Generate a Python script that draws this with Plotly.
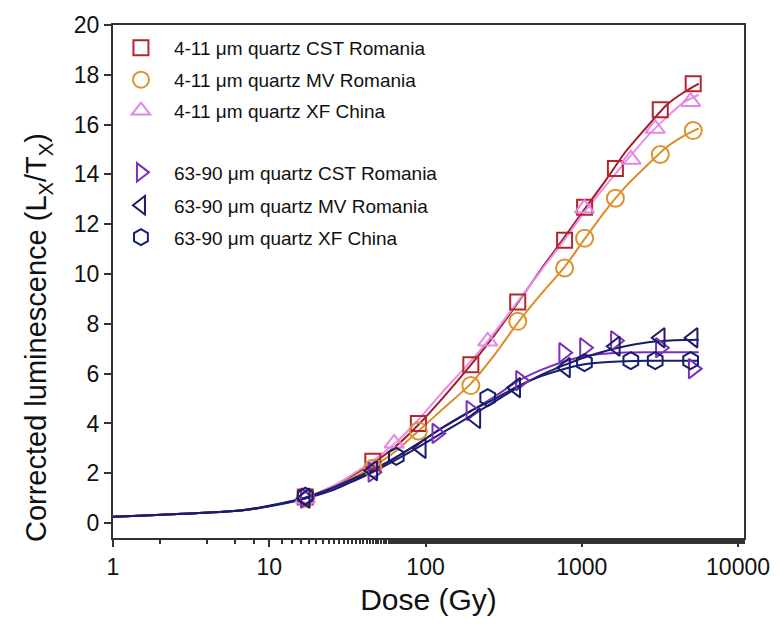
import plotly.graph_objects as go

# ---- measured points: dose (Gy) and corrected luminescence Lx/Tx ----
cst_fine_dose = [17, 46, 90, 195, 389, 776, 1042, 1641, 3178, 5164]
cst_fine_lx = [1.05, 2.48, 4.0, 6.36, 8.88, 11.36, 12.68, 14.24, 16.6, 17.64]

mv_fine_dose = [17, 46, 90, 195, 389, 776, 1042, 1641, 3178, 5164]
mv_fine_lx = [1.0, 2.2, 3.7, 5.52, 8.1, 10.24, 11.44, 13.04, 14.8, 15.76]

xf_fine_dose = [17, 63, 250, 1040, 2060, 2950, 4970]
xf_fine_lx = [1.0, 3.2, 7.3, 12.64, 14.6, 15.84, 16.92]

cst_coarse_dose = [17, 46, 118, 195, 405, 765, 1040, 1640, 3180, 5160]
cst_coarse_lx = [1.0, 2.04, 3.6, 4.52, 5.72, 6.84, 7.04, 7.32, 7.04, 6.2]

mv_coarse_dose = [17, 46, 94, 210, 378, 787, 1640, 3178, 5160]
mv_coarse_lx = [1.0, 2.1, 3.0, 4.2, 5.44, 6.24, 7.1, 7.44, 7.44]

xf_coarse_dose = [17, 65, 250, 1040, 2060, 2950, 4970]
xf_coarse_lx = [1.08, 2.68, 5.04, 6.44, 6.52, 6.52, 6.52]

# ---- dose-response fit curves, sampled along the dose axis ----
fit_dose = [1, 6.5, 12, 17, 25, 35, 46, 65, 90, 130, 195, 280, 390, 550,
            780, 1040, 1400, 1900, 2600, 3500, 4500, 5600]
fit_cst_fine = [0.25, 0.5, 0.78, 1.02, 1.45, 1.95, 2.4, 3.1, 3.95, 5.05, 6.35,
                7.6, 8.85, 10.2, 11.5, 12.6, 13.7, 14.9, 15.9, 16.8, 17.3, 17.65]
fit_mv_fine = [0.25, 0.5, 0.77, 1.0, 1.4, 1.85, 2.25, 2.9, 3.7, 4.6, 5.6,
               6.8, 8.05, 9.2, 10.3, 11.4, 12.5, 13.5, 14.35, 15.1, 15.55, 15.85]
fit_xf_fine = [0.25, 0.5, 0.78, 1.02, 1.45, 2.0, 2.5, 3.25, 4.15, 5.3, 6.5,
               7.7, 8.9, 10.15, 11.4, 12.5, 13.5, 14.5, 15.5, 16.3, 16.9, 17.2]
fit_cst_coarse = [0.25, 0.5, 0.78, 1.0, 1.35, 1.75, 2.1, 2.65, 3.2, 3.85, 4.5,
                  5.1, 5.7, 6.15, 6.5, 6.7, 6.8, 6.85, 6.86, 6.86, 6.86, 6.86]
fit_mv_coarse = [0.25, 0.5, 0.76, 0.98, 1.3, 1.7, 2.05, 2.55, 3.05, 3.65, 4.3,
                 4.9, 5.45, 5.95, 6.35, 6.65, 6.9, 7.1, 7.25, 7.32, 7.35, 7.36]
fit_xf_coarse = [0.25, 0.5, 0.8, 1.02, 1.4, 1.8, 2.15, 2.65, 3.2, 3.85, 4.5,
                 5.0, 5.5, 5.9, 6.2, 6.38, 6.46, 6.5, 6.52, 6.52, 6.52, 6.52]

series = [
    ("4-11 \u03bcm quartz CST Romania", cst_fine_dose, cst_fine_lx, fit_cst_fine,
     "square-open", "#b3262e", "#a31b25", 15),
    ("4-11 \u03bcm quartz MV Romania", mv_fine_dose, mv_fine_lx, fit_mv_fine,
     "circle-open", "#e0912c", "#dc8c28", 17),
    ("4-11 \u03bcm quartz XF China", xf_fine_dose, xf_fine_lx, fit_xf_fine,
     "triangle-up-open", "#e486e4", "#e88ee8", 17),
    ("63-90 \u03bcm quartz CST Romania", cst_coarse_dose, cst_coarse_lx, fit_cst_coarse,
     "triangle-right-open", "#7b2fbf", "#7b2fbf", 17),
    ("63-90 \u03bcm quartz MV Romania", mv_coarse_dose, mv_coarse_lx, fit_mv_coarse,
     "triangle-left-open", "#1b1c6b", "#1b1c6b", 17),
    ("63-90 \u03bcm quartz XF China", xf_coarse_dose, xf_coarse_lx, fit_xf_coarse,
     "hexagon-open", "#141f6e", "#141f6e", 17),
]

# vertical centre (px from top) of each legend row; blank row between size groups
legend_rows = [47, 79, 110, 172, 205, 237]

FONT = "Arial, 'Liberation Sans', sans-serif"
W, H = 782, 630
M_L, M_R, M_T, M_B = 113, 36, 23, 92
PLOT_H = H - M_T - M_B

fig = go.Figure()

for name, dose, lx, fit, sym, mcol, lcol, msize in series:
    fig.add_trace(go.Scatter(
        x=fit_dose, y=fit, mode="lines",
        line=dict(color=lcol, width=2, shape="spline", smoothing=0.6),
        showlegend=False, hoverinfo="skip"))

legend_layouts = {}
for i, (name, dose, lx, fit, sym, mcol, lcol, msize) in enumerate(series):
    key = "legend" if i == 0 else f"legend{i + 1}"
    fig.add_trace(go.Scatter(
        x=dose, y=lx, mode="markers", name=name, legend=key,
        marker=dict(symbol=sym, size=msize, color=mcol, line=dict(color=mcol, width=2))))
    legend_layouts[key] = dict(
        x=-0.008, y=(H - M_B - (legend_rows[i] - 20)) / PLOT_H,
        xanchor="left", yanchor="top", bgcolor="rgba(0,0,0,0)",
        font=dict(size=19, family=FONT, color="#111"), itemwidth=56,
    )

fig.update_layout(
    width=W, height=H,
    margin=dict(l=M_L, r=M_R, t=M_T, b=M_B),
    paper_bgcolor="white", plot_bgcolor="white",
    font=dict(family=FONT, color="#111"),
    showlegend=True,
    **legend_layouts,
)

fig.update_xaxes(
    type="log", range=[0, 4.038],
    tickvals=[1, 10, 100, 1000, 10000], ticktext=["1", "10", "100", "1000", "10000"],
    ticks="outside", ticklen=7, tickwidth=1.5, tickcolor="#333",
    minor=dict(ticks="outside", ticklen=4, tickwidth=1.5, tickcolor="#333", showgrid=False),
    showline=True, linecolor="#333", linewidth=2, mirror=True,
    showgrid=False, zeroline=False,
    tickfont=dict(size=23, family=FONT, color="#111"),
    title=dict(text="Dose (Gy)", font=dict(size=30, family=FONT, color="#111"), standoff=10),
)
fig.update_yaxes(
    range=[-0.6, 20], tickvals=list(range(0, 21, 2)),
    ticks="outside", ticklen=7, tickwidth=1.5, tickcolor="#333",
    showline=True, linecolor="#333", linewidth=2, mirror=True,
    showgrid=False, zeroline=False,
    tickfont=dict(size=23, family=FONT, color="#111"),
)

# y-axis title, placed slightly below the plot's vertical centre
fig.add_annotation(
    text="Corrected luminescence (L<sub>X</sub>/T<sub>X</sub>)",
    xref="paper", yref="paper", x=-(M_L - 38) / (W - M_L - M_R), y=(H - M_B - 337) / PLOT_H,
    xanchor="center", yanchor="middle", textangle=-90, showarrow=False,
    font=dict(size=29, family=FONT, color="#111"),
)

fig.write_html("out.html")
